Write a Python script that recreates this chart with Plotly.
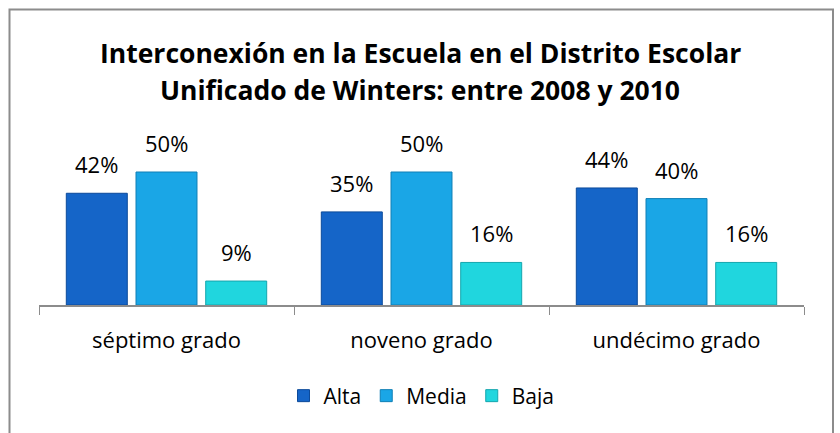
import plotly.graph_objects as go

categories = ["séptimo grado", "noveno grado", "undécimo grado"]
alta = [42, 35, 44]
media = [50, 50, 40]
baja = [9, 16, 16]
series_names = ["Alta", "Media", "Baja"]
title_lines = ["Interconexión en la Escuela en el Distrito Escolar",
               "Unificado de Winters: entre 2008 y 2010"]

colors = ["#1565C8", "#1AA6E6", "#20D6DE"]
edges = ["#0C4A9A", "#107FB5", "#14A6AE"]
FONT = "Open Sans"

W, H = 840, 433
L, R, T, B = 39, 36, 120, 128
pw = W - L - R
ph = H - T - B
BARGAP, GROUPGAP = 0.18, 0.125
slot_px = pw / len(categories) * (1 - BARGAP) / len(series_names)

def px(x):
    return (x - L) / pw

def py(y):
    return (H - B - y) / ph

fig = go.Figure()
annotations = []
all_series = [alta, media, baja]
for i, (name, vals, c, e) in enumerate(zip(series_names, all_series, colors, edges)):
    fig.add_trace(go.Bar(
        x=categories, y=vals, name=name,
        marker=dict(color=c, line=dict(color=e, width=1)),
    ))
    for cat, v in zip(categories, vals):
        annotations.append(dict(
            x=cat, y=v, xref="x", yref="y", text=f"{v}%", showarrow=False,
            xshift=(i - 1) * slot_px, yshift=29, yanchor="middle",
            font=dict(size=22, family=FONT, color="#000000")))

annotations += [
    dict(text=f"<b>{title_lines[0]}</b>", xref="paper", yref="paper",
         x=px(420), y=py(53), xanchor="center", yanchor="middle",
         showarrow=False, font=dict(size=26.5, family=FONT)),
    dict(text=f"<b>{title_lines[1]}</b>", xref="paper", yref="paper",
         x=px(420), y=py(90), xanchor="center", yanchor="middle",
         showarrow=False, font=dict(size=26.5, family=FONT)),
]

fig.update_layout(
    width=W, height=H,
    margin=dict(l=L, r=R, t=T, b=B, autoexpand=False),
    paper_bgcolor="white", plot_bgcolor="white",
    barmode="group", bargap=BARGAP, bargroupgap=GROUPGAP,
    font=dict(family=FONT, size=20, color="#000000"),
    showlegend=True,
    legend=dict(orientation="h", x=0.5, xanchor="center", y=py(396), yanchor="middle",
                font=dict(size=21, family=FONT), traceorder="normal", itemwidth=30),
    xaxis=dict(showline=True, linecolor="#8C8C8C", linewidth=1.5,
               ticks="outside", tickson="boundaries", ticklen=8, tickcolor="#8C8C8C",
               tickfont=dict(size=22, family=FONT), ticklabelstandoff=15,
               showgrid=False),
    yaxis=dict(range=[0, ph / 2.66], visible=False, showgrid=False),
    shapes=[dict(type="rect", xref="paper", yref="paper",
                 x0=px(9.5), x1=px(833), y0=py(440), y1=py(9.5),
                 line=dict(color="#8C8C8C", width=2), fillcolor="rgba(0,0,0,0)",
                 layer="below")],
    annotations=annotations,
)

fig.write_html("out.html", config={"displayModeBar": False},
               post_script="document.body.style.margin='0';")
